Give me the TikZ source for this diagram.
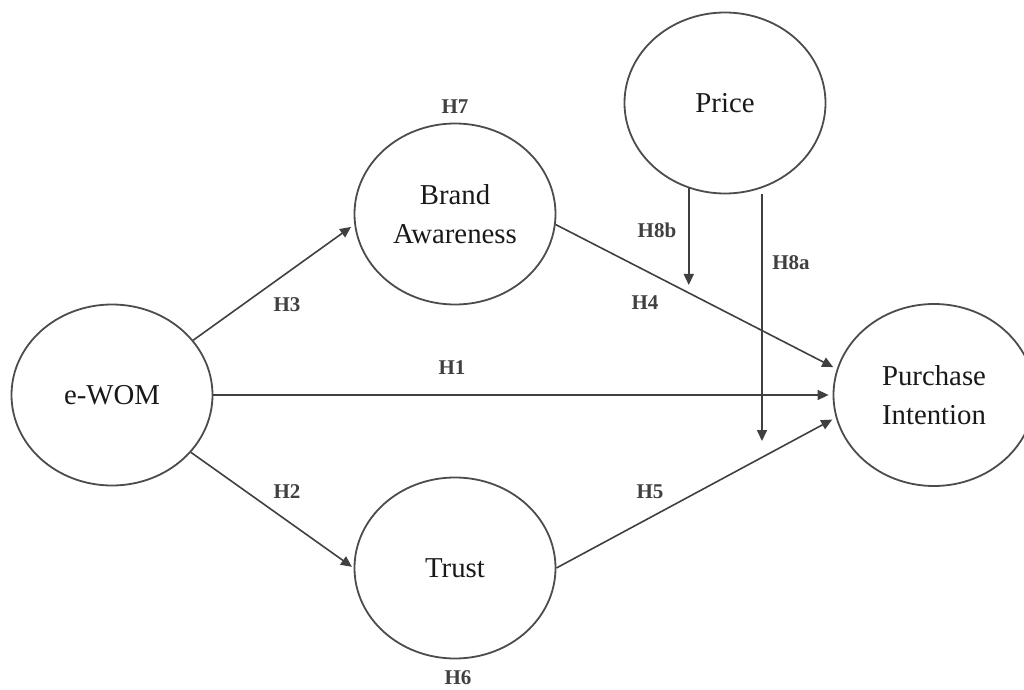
\documentclass[tikz,border=0pt]{standalone}
\usepackage{fontspec}
\setmainfont{Liberation Serif}
\usetikzlibrary{shapes.geometric,arrows.meta}
\begin{document}
\begin{tikzpicture}[x=0.5pt,y=-0.5pt,
  construct/.style={draw=black!70,line width=0.9pt,ellipse,inner sep=0pt,
    minimum width=100.5pt,minimum height=90.5pt,align=center,
    font=\fontsize{14.4}{19.5}\selectfont,text=black!90},
  hyp/.style={font=\fontsize{10.5}{13}\selectfont\bfseries,text=black!75},
  conn/.style={draw=black!75,line width=0.8pt,-{Triangle[length=5.5pt,width=5pt]}}]
\useasboundingbox (0,0) rectangle (1024,690);
\node[construct] (ewom) at (112,395) {e-WOM};
\node[construct] (ba) at (455,214) {Brand\\Awareness};
\node[construct] (price) at (725,103) {Price};
\node[construct,minimum height=91pt] (pi) at (934,395) {Purchase\\Intention};
\node[construct] (trust) at (455,568) {Trust};
\coordinate (m8b) at (689,285);
\coordinate (m8a) at (762,441);
\node[hyp] (h1) at (452,368) {H1};
\node[hyp] (h2) at (287,492) {H2};
\node[hyp] (h3) at (287,305) {H3};
\node[hyp] (h4) at (645,303) {H4};
\node[hyp] (h5) at (650,492) {H5};
\node[hyp] (h6) at (458,678) {H6};
\node[hyp] (h7) at (455,107) {H7};
\node[hyp] (h8a) at (791,263) {H8a};
\node[hyp] (h8b) at (657,230) {H8b};
\draw[conn,shorten >=2pt] (ewom.34) -- (ba.186);
\draw[conn,shorten >=1pt] (ewom.-36) -- (trust.west);
\draw[conn,shorten >=2pt] (ewom.east) -- (pi.west);
\draw[conn,shorten >=2pt] (ba.-6) -- (pi.165);
\draw[conn,shorten >=2pt] (trust.east) -- (pi.193);
\draw[conn] (price.-113) -- (price.-113 |- m8b);
\draw[conn] (m8a |- price.south) -- (m8a);
\end{tikzpicture}
\end{document}
